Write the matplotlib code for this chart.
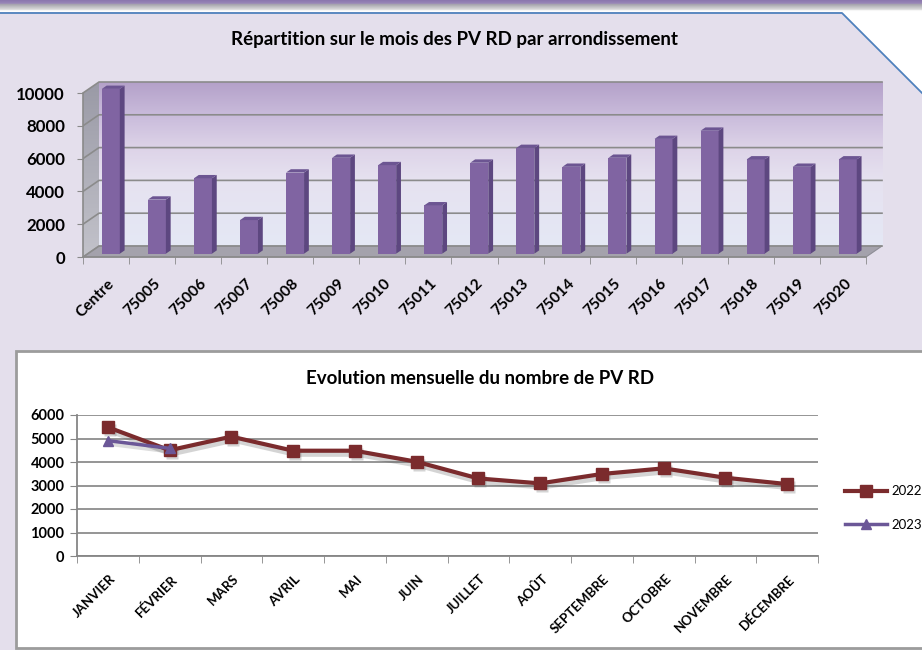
import numpy as np
import matplotlib
matplotlib.use('Agg')
import matplotlib.pyplot as plt
from matplotlib.patches import Polygon, Rectangle
from matplotlib.colors import LinearSegmentedColormap
from matplotlib.transforms import ScaledTranslation

plt.rcParams['font.family'] = ['Lato', 'DejaVu Sans']

# données
arrondissements = ['Centre', '75005', '75006', '75007', '75008', '75009', '75010',
                   '75011', '75012', '75013', '75014', '75015', '75016', '75017',
                   '75018', '75019', '75020']
pv_arrond = [10050, 3300, 4600, 2050, 4950, 5850, 5400, 2950, 5550, 6450,
             5300, 5850, 7000, 7500, 5750, 5300, 5750]

mois = ['JANVIER', 'FÉVRIER', 'MARS', 'AVRIL', 'MAI', 'JUIN', 'JUILLET', 'AOÛT',
        'SEPTEMBRE', 'OCTOBRE', 'NOVEMBRE', 'DÉCEMBRE']
pv_2022 = [5480, 4500, 5080, 4480, 4480, 4010, 3300, 3090, 3490, 3730, 3330, 3060]
pv_2023 = [4910, 4580]

W, H = 922, 650
fig = plt.figure(figsize=(9.22, 6.5), dpi=100)
fig.patch.set_facecolor('#e4dfec')


def fig_box(left, top, right, bottom):
    # positions en pixels -> coordonnées figure
    return [left / W, 1 - bottom / H, (right - left) / W, (bottom - top) / H]


# décor de fond (trait bleu, cadre blanc)
bg = fig.add_axes([0, 0, 1, 1], zorder=-5)
bg.add_patch(Polygon([(842, 13), (W, 93), (W, 11), (842, 11)], closed=True,
                     fc='white', ec='none'))
bg.plot([0, 842, W], [13, 13, 93], color='#4f81bd', lw=1.3)
bg.add_patch(Rectangle((16, 351), W, 297, fc='white', ec='#9c9c9c', lw=2))
bg.set_xlim(0, W)
bg.set_ylim(H, 0)
bg.axis('off')

# bandeau du haut
band = fig.add_axes(fig_box(0, 0, W, 12), zorder=-4)
band_cmap = LinearSegmentedColormap.from_list('band', [
    (0, '#8a76ad'), (0.28, '#9a88b8'), (0.36, '#a6a4ac'),
    (0.8, '#dcdcdc'), (0.9, '#ffffff'), (1, '#ffffff')])
band.imshow(np.linspace(0, 1, 64).reshape(-1, 1), cmap=band_cmap, aspect='auto',
            extent=[0, 1, 1, 0])
band.set_xlim(0, 1)
band.set_ylim(1, 0)
band.axis('off')

# ---- graphique 1 : barres "3D" ----
ax = fig.add_axes(fig_box(83, 80, 884, 261))
px_x = (866 - 83) / 17
px_y = (257 - 93) / 10000
ax.set_xlim(-0.5, -0.5 + (884 - 83) / px_x)
ax.set_ylim(-(261 - 257) / px_y, (257 - 80) / px_y)
ax.set_facecolor('none')
ddx = 16 / px_x
ddy = 11 / px_y
n = len(arrondissements)

wall_cmap = LinearSegmentedColormap.from_list('wall', [
    (0, '#e4e8f5'), (0.4, '#e6e2f0'), (0.6, '#ddd3e8'), (0.8, '#c9bbdb'), (1, '#b4a1c9')])
ax.imshow(np.linspace(0, 1, 256).reshape(-1, 1), origin='lower', cmap=wall_cmap,
          aspect='auto', extent=[-0.5 + ddx, n - 0.5 + ddx, ddy, 10000 + ddy], zorder=0)

left_wall = Polygon([(-0.5, 0), (-0.5 + ddx, ddy), (-0.5 + ddx, 10000 + ddy), (-0.5, 10000)],
                    closed=True, fc='none', ec='none')
ax.add_patch(left_wall)
side_cmap = LinearSegmentedColormap.from_list('side', ['#c2c2ca', '#9a9aa6'])
im = ax.imshow(np.linspace(0, 1, 64).reshape(-1, 1), origin='lower', cmap=side_cmap,
               aspect='auto', extent=[-0.5, -0.5 + ddx, 0, 10000 + ddy], zorder=0)
im.set_clip_path(left_wall)

ax.add_patch(Polygon([(-0.5, 0), (n - 0.5, 0), (n - 0.5 + ddx, ddy), (-0.5 + ddx, ddy)],
                     closed=True, fc='#a4a2ac', ec='#8e8e96', lw=0.8, zorder=1))

for v in range(0, 10001, 2000):
    ax.plot([-0.5, -0.5 + ddx, n - 0.5 + ddx], [v, v + ddy, v + ddy],
            color='#8b8b8b', lw=1.2, zorder=1)

f0, bd, w = 0.3, 0.3, 0.39
xs = np.arange(n) + f0 * ddx
bars = ax.bar(xs, pv_arrond, width=w, bottom=f0 * ddy, color='#8064a2', zorder=3)
for r in bars:
    x0, y0 = r.get_x(), r.get_y()
    x1, y1 = x0 + r.get_width(), y0 + r.get_height()
    ax.add_patch(Polygon([(x1, y0), (x1 + bd * ddx, y0 + bd * ddy),
                          (x1 + bd * ddx, y1 + bd * ddy), (x1, y1)],
                         closed=True, fc='#5d4780', ec='none', zorder=3))
    ax.add_patch(Polygon([(x0, y1), (x1, y1), (x1 + bd * ddx, y1 + bd * ddy),
                          (x0 + bd * ddx, y1 + bd * ddy)],
                         closed=True, fc='#6c5592', ec='none', zorder=3))

for s in ['top', 'right']:
    ax.spines[s].set_visible(False)
ax.spines['left'].set_bounds(0, 10000)
ax.spines['bottom'].set_bounds(-0.5, n - 0.5)
for s in ['left', 'bottom']:
    ax.spines[s].set_color('#8a8a8a')
    ax.spines[s].set_linewidth(1.2)
    ax.spines[s].set_position(('data', -0.5 if s == 'left' else 0))

ax.set_yticks(range(0, 10001, 2000))
ax.set_yticklabels([str(v) for v in range(0, 10001, 2000)], fontweight='bold', fontsize=12.2)
ax.tick_params(axis='y', length=4, color='#8a8a8a', pad=9)
ax.set_xticks(range(n))
ax.set_xticklabels(arrondissements, rotation=45, ha='right', va='top',
                   rotation_mode='anchor', fontweight='bold', fontsize=11.2)
ax.set_xticks(np.arange(-0.5, n), minor=True)
ax.tick_params(axis='x', which='major', length=0, pad=14)
ax.tick_params(axis='x', which='minor', length=5, color='#8a8a8a')
for lab in ax.get_xticklabels():
    lab.set_transform(lab.get_transform() + ScaledTranslation(1 / 100, 0, fig.dpi_scale_trans))

fig.text(454 / W, 1 - 40 / H, 'Répartition sur le mois des PV RD par arrondissement',
         ha='center', va='center', fontweight='bold', fontsize=13.5)

# ---- graphique 2 : évolution mensuelle ----
ax2 = fig.add_axes(fig_box(77, 415, 818, 556))
ax2.set_facecolor('white')
ax2.set_xlim(-0.5, 11.5)
ax2.set_ylim(0, 6000)
ax2.set_yticks(range(0, 6001, 1000))
ax2.grid(axis='y', color='#8c8c8c', lw=1.3, zorder=1)
ax2.set_axisbelow(True)

# ombre portée des courbes
off = ax2.transData + ScaledTranslation(2 / 100, -3 / 100, fig.dpi_scale_trans)
ax2.plot(range(len(pv_2022)), pv_2022, color='#555555', alpha=0.25, lw=4.5,
         marker='s', ms=9, mec='none', transform=off, zorder=2)
ax2.plot(range(len(pv_2023)), pv_2023, color='#555555', alpha=0.2, lw=3.5,
         transform=off, zorder=2)

l22, = ax2.plot(range(len(pv_2022)), pv_2022, color='#7b2b2d', lw=3, marker='s', ms=8,
                label='2022', zorder=3)
l23, = ax2.plot(range(len(pv_2023)), pv_2023, color='#6b5797', lw=2.5, marker='^', ms=7,
                label='2023', zorder=4)

for s in ['top', 'right']:
    ax2.spines[s].set_visible(False)
for s in ['left', 'bottom']:
    ax2.spines[s].set_color('#868686')
    ax2.spines[s].set_linewidth(1.3)
ax2.set_yticklabels([str(v) for v in range(0, 6001, 1000)], fontweight='bold', fontsize=10.5)
ax2.tick_params(axis='y', length=5, color='#868686', pad=4)
ax2.set_xticks(range(12))
ax2.set_xticklabels(mois, rotation=45, ha='right', va='top', rotation_mode='anchor',
                    fontweight='bold', fontsize=9.5)
ax2.set_xticks(np.arange(-0.5, 12), minor=True)
ax2.tick_params(axis='x', which='major', length=0, pad=12)
ax2.tick_params(axis='x', which='minor', length=5, color='#868686')
for lab in ax2.get_xticklabels():
    lab.set_transform(lab.get_transform() + ScaledTranslation(1 / 100, 0, fig.dpi_scale_trans))

fig.text(480 / W, 1 - 379 / H, 'Evolution mensuelle du nombre de PV RD',
         ha='center', va='center', fontweight='bold', fontsize=13.5)

fig.legend(handles=[l22, l23], loc='center left',
           bbox_to_anchor=(845 / W, 1 - 508 / H), frameon=False,
           fontsize=9.5, handlelength=3.2, labelspacing=1.6, handletextpad=0.3,
           borderpad=0, borderaxespad=0)

fig.savefig('out.png', dpi=100, facecolor=fig.get_facecolor())
